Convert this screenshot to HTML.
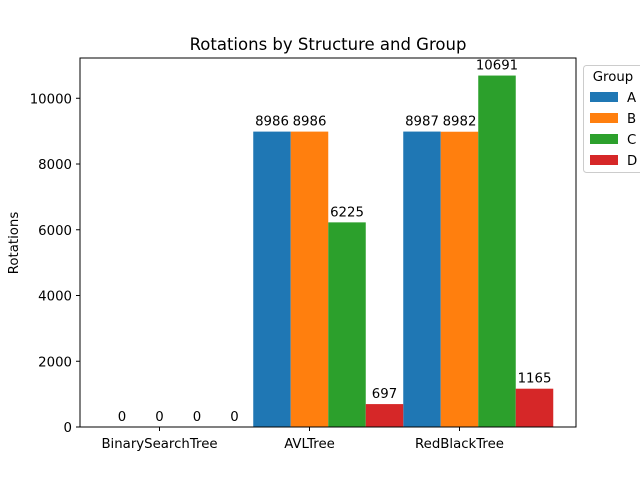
<!DOCTYPE html>
<html><head><meta charset="utf-8"><style>
body{margin:0;background:#fff;overflow:hidden}
svg{font-family:"DejaVu Sans","Liberation Sans",sans-serif}
</style></head><body>
<svg id="chart" width="640" height="480" xmlns="http://www.w3.org/2000/svg">
<rect width="640" height="480" fill="#fff"/>
<text x="328" y="50" font-size="16.5" text-anchor="middle">Rotations by Structure and Group</text>
<text transform="translate(18,243) rotate(-90)" font-size="13.3" text-anchor="middle">Rotations</text>
<g id="bars"></g>
<g id="yticks"></g>
<g id="xticks"></g>
<rect x="80" y="58" width="496" height="369" fill="none" stroke="#000" stroke-width="1"/>
<g id="legend">
<rect x="583.5" y="65.5" width="70" height="107" rx="3" fill="#fff" stroke="#ccc"/>
<text x="613" y="81" font-size="13.3" text-anchor="middle">Group</text>
</g>
</svg>
<script>
const categories = ["BinarySearchTree", "AVLTree", "RedBlackTree"];
const groups = ["A", "B", "C", "D"];
const seriesA = [0, 8986, 8987];
const seriesB = [0, 8986, 8982];
const seriesC = [0, 6225, 10691];
const seriesD = [0, 697, 1165];
const yTicks = [0, 2000, 4000, 6000, 8000, 10000];
const colors = ["#1f77b4", "#ff7f0e", "#2ca02c", "#d62728"];
const series = [seriesA, seriesB, seriesC, seriesD];
const NS = "http://www.w3.org/2000/svg";
const yMax = 11225;
function ys(v){return 427 - v/yMax*369;}
function xs(i){return 159.5 + 150*i;}
const bw = 37.5;
function mk(tag, attrs, parent){const e=document.createElementNS(NS,tag);for(const k in attrs)e.setAttribute(k,attrs[k]);parent.appendChild(e);return e;}
const bars=document.getElementById('bars');
series.forEach((s,g)=>{
  s.forEach((v,i)=>{
    const cx = xs(i) + (g-1)*bw;
    const r = mk('rect',{x:cx-bw/2,y:ys(v),width:bw,height:ys(0)-ys(v),fill:colors[g]},bars);
    
    
    const t = mk('text',{x:cx,y:ys(v)-6,'font-size':13.3,'text-anchor':'middle'},bars);
    t.textContent = v;
    
    
  });
});
const yg=document.getElementById('yticks');
yTicks.forEach(v=>{
  const l=mk('line',{x1:76,x2:80,y1:ys(v),y2:ys(v),stroke:'#000'},yg);
  
  
  const t=mk('text',{x:72,y:ys(v)+5,'font-size':13.3,'text-anchor':'end'},yg);
  t.textContent=v;
  
  
});
const xg=document.getElementById('xticks');
categories.forEach((c,i)=>{
  const l=mk('line',{x1:xs(i),x2:xs(i),y1:427,y2:431,stroke:'#000'},xg);
  
  
  const t=mk('text',{x:xs(i),y:448,'font-size':13.3,'text-anchor':'middle'},xg);
  t.textContent=c;
  
  
});
const lg=document.getElementById('legend');
groups.forEach((g,k)=>{
  const y=92+k*21;
  const r=mk('rect',{x:590,y:y,width:28,height:10,fill:colors[k]},lg);
  
  
  const t=mk('text',{x:627,y:y+10,'font-size':13.3},lg);
  t.textContent=g;
  
  
});
</script>
</body></html>
